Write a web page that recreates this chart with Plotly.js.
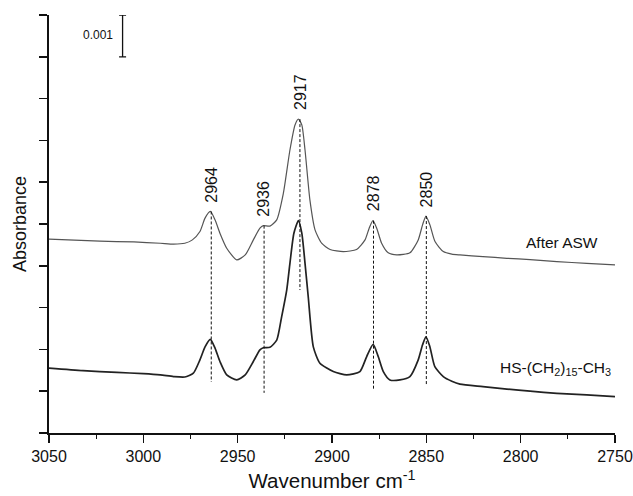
<!DOCTYPE html>
<html>
<head>
<meta charset="utf-8">
<script src="https://cdn.plot.ly/plotly-3.0.1.min.js"></script>
<style>html,body{margin:0;padding:0;background:#fff;}#chart{width:633px;height:496px;}</style>
</head>
<body>
<div id="chart"></div>
<script>
// Absorbance values expressed in units of 0.001 (one y tick = 0.001 absorbance, see scale bar)
// Spectrum "After ASW"
const afterASW_wn = [3050, 3023, 3005, 2991, 2984, 2978, 2974, 2970, 2967.3, 2964.5, 2962, 2959.4, 2955.8, 2950.5, 2946, 2941.7, 2938.2, 2936.4, 2932.9, 2929.3, 2925.8, 2922.3, 2919.6, 2917.8, 2916, 2914.3, 2911.7, 2909, 2905.5, 2901, 2894, 2887, 2882.5, 2880.3, 2878.3, 2876.3, 2873.7, 2870.2, 2865.7, 2858.7, 2854.3, 2852, 2850.2, 2848.1, 2845.4, 2841, 2836.5, 2832.2, 2820, 2807.3, 2795, 2780.8, 2765, 2750];
const afterASW_abs = [4.64, 4.59, 4.57, 4.54, 4.52, 4.54, 4.62, 4.82, 5.14, 5.30, 5.10, 4.78, 4.42, 4.14, 4.26, 4.62, 4.90, 4.96, 4.95, 5.10, 5.73, 6.77, 7.37, 7.51, 7.37, 6.77, 5.57, 4.86, 4.54, 4.39, 4.34, 4.39, 4.62, 4.90, 5.08, 4.90, 4.54, 4.31, 4.26, 4.31, 4.62, 4.98, 5.19, 4.98, 4.58, 4.34, 4.28, 4.26, 4.22, 4.18, 4.15, 4.10, 4.06, 4.02];

// Spectrum "HS-(CH2)15-CH3"
const thiol_wn = [3050, 3032, 3014, 3000, 2991, 2984, 2978, 2973.5, 2970, 2967.3, 2964.5, 2962, 2959.4, 2955.8, 2950.5, 2946, 2941.7, 2938.2, 2936.4, 2932.9, 2929.3, 2926.7, 2924, 2922.3, 2920.2, 2917.8, 2916, 2914.3, 2912.6, 2909.9, 2906.4, 2899.3, 2892.2, 2885.2, 2881.6, 2878.2, 2875.5, 2872.8, 2869.3, 2864, 2858.7, 2854.3, 2852, 2850.2, 2848.1, 2845.5, 2841, 2836.5, 2832.2, 2820, 2807.3, 2795, 2780.8, 2765, 2750];
const thiol_abs = [1.55, 1.49, 1.45, 1.42, 1.39, 1.35, 1.34, 1.43, 1.75, 2.06, 2.24, 2.03, 1.71, 1.39, 1.27, 1.39, 1.71, 1.99, 2.04, 2.05, 2.22, 2.78, 3.42, 4.06, 4.78, 5.08, 4.78, 4.06, 3.26, 2.06, 1.67, 1.47, 1.39, 1.47, 1.83, 2.12, 1.83, 1.47, 1.27, 1.27, 1.35, 1.75, 2.11, 2.30, 2.06, 1.59, 1.35, 1.24, 1.17, 1.11, 1.05, 1.00, 0.95, 0.91, 0.87];

// Peak assignments (wavenumber), labels and the dashed guide extents
const peakWn = [2964, 2936, 2917, 2878, 2850];
const peakLabels = ["2964", "2936", "2917", "2878", "2850"];
const peakTop = [5.30, 4.96, 7.51, 5.08, 5.19];
const peakBottom = [1.22, 0.96, 3.42, 1.03, 1.17];

// Axis ticks
const xTickVals = [3050, 3000, 2950, 2900, 2850, 2800, 2750];
const xTickText = ["3050", "3000", "2950", "2900", "2850", "2800", "2750"];

// Scale bar (0.001 absorbance)
const scaleBarWn = [3011];
const scaleBarMid = [9.5];
const scaleBarHalf = [0.5];
const scaleBarText = "0.001";

const FONT = "Liberation Sans, Arial, Helvetica, sans-serif";

const traces = [];
traces.push({
  x: afterASW_wn, y: afterASW_abs, type: 'scatter', mode: 'lines',
  line: {color: '#555555', width: 1.2, shape: 'spline', smoothing: 0.6},
  hoverinfo: 'skip', showlegend: false
});
traces.push({
  x: thiol_wn, y: thiol_abs, type: 'scatter', mode: 'lines',
  line: {color: '#222222', width: 1.7, shape: 'spline', smoothing: 0.6},
  hoverinfo: 'skip', showlegend: false
});
for (let i = 0; i < peakWn.length; i++) {
  traces.push({
    x: [peakWn[i], peakWn[i]], y: [peakTop[i], peakBottom[i]],
    type: 'scatter', mode: 'lines',
    line: {color: '#111111', width: 1, dash: '3px,2px'},
    hoverinfo: 'skip', showlegend: false
  });
}
traces.push({
  x: scaleBarWn, y: scaleBarMid, type: 'scatter', mode: 'markers',
  marker: {size: 0.1, color: 'rgba(0,0,0,0)'},
  error_y: {type: 'data', array: scaleBarHalf, symmetric: true, color: '#111111', thickness: 1.3, width: 3.5},
  hoverinfo: 'skip', showlegend: false
});

const annotations = [];
for (let i = 0; i < peakWn.length; i++) {
  annotations.push({
    x: peakWn[i], y: peakTop[i], xref: 'x', yref: 'y',
    text: peakLabels[i], showarrow: false, textangle: -90,
    xanchor: 'center', yanchor: 'bottom', yshift: 7,
    font: {family: FONT, size: 16, color: '#111111'}
  });
}
annotations.push({
  x: 2758, y: 4.55, xref: 'x', yref: 'y', text: 'After ASW', showarrow: false,
  xanchor: 'right', yanchor: 'middle', font: {family: FONT, size: 15.5, color: '#111111'}
});
annotations.push({
  x: 2751, y: 1.55, xref: 'x', yref: 'y', text: 'HS-(CH<sub>2</sub>)<sub>15</sub>-CH<sub>3</sub>', showarrow: false,
  xanchor: 'right', yanchor: 'middle', font: {family: FONT, size: 15.5, color: '#111111'}
});
annotations.push({
  x: 3015, y: 9.52, xref: 'x', yref: 'y', text: scaleBarText, showarrow: false,
  xanchor: 'right', yanchor: 'middle', font: {family: FONT, size: 12, color: '#111111'}
});

const layout = {
  width: 633, height: 496,
  margin: {l: 49, r: 18, t: 15, b: 63},
  paper_bgcolor: '#ffffff', plot_bgcolor: '#ffffff',
  font: {family: FONT, color: '#111111'},
  showlegend: false,
  xaxis: {
    range: [3050, 2750], autorange: false,
    tickmode: 'array', tickvals: xTickVals, ticktext: xTickText,
    ticks: 'outside', ticklen: 8, tickwidth: 1.5, tickcolor: '#111111',
    minor: {dtick: 25, tick0: 3050, ticks: 'outside', ticklen: 4, tickwidth: 1.3, tickcolor: '#111111', showgrid: false},
    showline: true, linecolor: '#111111', linewidth: 1.8, mirror: false,
    showgrid: false, zeroline: false,
    tickfont: {family: FONT, size: 16, color: '#111111'},
    title: {text: 'Wavenumber cm<sup>-1</sup>', font: {family: FONT, size: 20.5, color: '#111111'}, standoff: 10}
  },
  yaxis: {
    range: [0, 10], autorange: false, dtick: 1, tick0: 0,
    showticklabels: false,
    ticks: 'outside', ticklen: 8, tickwidth: 1.5, tickcolor: '#111111',
    showline: true, linecolor: '#111111', linewidth: 1.8, mirror: false,
    showgrid: false, zeroline: false,
    title: {text: 'Absorbance', font: {family: FONT, size: 18, color: '#111111'}, standoff: 8}
  },
  annotations: annotations
};

Plotly.newPlot('chart', traces, layout, {staticPlot: true, displayModeBar: false});
</script>
</body>
</html>
